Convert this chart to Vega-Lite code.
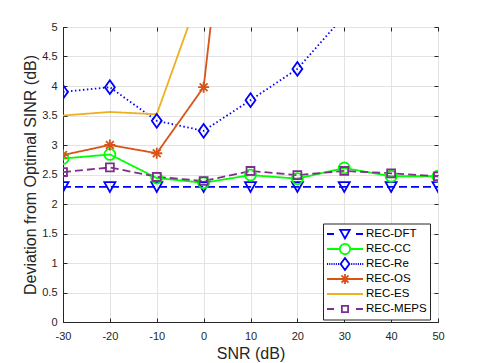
{
  "$schema": "https://vega.github.io/schema/vega-lite/v6.json",
  "width": 375,
  "height": 295,
  "autosize": {"type": "none"},
  "padding": {"left": 63, "top": 27, "right": 47, "bottom": 41},
  "config": {
    "font": "Liberation Sans",
    "view": {"stroke": "#262626", "strokeWidth": 1},
    "axis": {
      "labelFont": "Liberation Sans",
      "labelFontSize": 11,
      "labelColor": "#262626",
      "titleFont": "Liberation Sans",
      "titleFontSize": 16,
      "titleFontWeight": "normal",
      "titleColor": "#262626",
      "domainColor": "#262626",
      "tickColor": "#262626",
      "gridColor": "#e3e3e3",
      "tickSize": -4
    }
  },
  "data": {
    "values": [
      {"snr": -30, "dev": 2.29, "series": "REC-DFT"},
      {"snr": -20, "dev": 2.29, "series": "REC-DFT"},
      {"snr": -10, "dev": 2.29, "series": "REC-DFT"},
      {"snr": 0, "dev": 2.29, "series": "REC-DFT"},
      {"snr": 10, "dev": 2.29, "series": "REC-DFT"},
      {"snr": 20, "dev": 2.29, "series": "REC-DFT"},
      {"snr": 30, "dev": 2.29, "series": "REC-DFT"},
      {"snr": 40, "dev": 2.29, "series": "REC-DFT"},
      {"snr": 50, "dev": 2.29, "series": "REC-DFT"},
      {"snr": -30, "dev": 2.77, "series": "REC-CC"},
      {"snr": -20, "dev": 2.84, "series": "REC-CC"},
      {"snr": -10, "dev": 2.44, "series": "REC-CC"},
      {"snr": 0, "dev": 2.36, "series": "REC-CC"},
      {"snr": 10, "dev": 2.49, "series": "REC-CC"},
      {"snr": 20, "dev": 2.43, "series": "REC-CC"},
      {"snr": 30, "dev": 2.61, "series": "REC-CC"},
      {"snr": 40, "dev": 2.47, "series": "REC-CC"},
      {"snr": 50, "dev": 2.47, "series": "REC-CC"},
      {"snr": -30, "dev": 3.90, "series": "REC-Re"},
      {"snr": -20, "dev": 3.98, "series": "REC-Re"},
      {"snr": -10, "dev": 3.41, "series": "REC-Re"},
      {"snr": 0, "dev": 3.24, "series": "REC-Re"},
      {"snr": 10, "dev": 3.76, "series": "REC-Re"},
      {"snr": 20, "dev": 4.29, "series": "REC-Re"},
      {"snr": 30, "dev": 5.19, "series": "REC-Re"},
      {"snr": -30, "dev": 2.83, "series": "REC-OS"},
      {"snr": -20, "dev": 3.0, "series": "REC-OS"},
      {"snr": -10, "dev": 2.86, "series": "REC-OS"},
      {"snr": 0, "dev": 3.98, "series": "REC-OS"},
      {"snr": 10, "dev": 10.9, "series": "REC-OS"},
      {"snr": -30, "dev": 3.50, "series": "REC-ES"},
      {"snr": -20, "dev": 3.56, "series": "REC-ES"},
      {"snr": -10, "dev": 3.52, "series": "REC-ES"},
      {"snr": 0, "dev": 5.74, "series": "REC-ES"},
      {"snr": -30, "dev": 2.54, "series": "REC-MEPS"},
      {"snr": -20, "dev": 2.62, "series": "REC-MEPS"},
      {"snr": -10, "dev": 2.46, "series": "REC-MEPS"},
      {"snr": 0, "dev": 2.39, "series": "REC-MEPS"},
      {"snr": 10, "dev": 2.56, "series": "REC-MEPS"},
      {"snr": 20, "dev": 2.49, "series": "REC-MEPS"},
      {"snr": 30, "dev": 2.56, "series": "REC-MEPS"},
      {"snr": 40, "dev": 2.52, "series": "REC-MEPS"},
      {"snr": 50, "dev": 2.47, "series": "REC-MEPS"}
    ]
  },
  "layer": [
    {
      "mark": {"type": "line", "clip": true, "strokeWidth": 1.8},
      "encoding": {
        "x": {
          "field": "snr", "type": "quantitative",
          "scale": {"domain": [-30, 50], "nice": false},
          "axis": {"values": [-30, -20, -10, 0, 10, 20, 30, 40, 50], "labelExpr": "datum.value + ''", "title": "SNR (dB)", "titlePadding": 4, "labelPadding": 12, "labelFlush": false}
        },
        "y": {
          "field": "dev", "type": "quantitative",
          "scale": {"domain": [0, 5], "nice": false},
          "axis": {"values": [0, 0.5, 1, 1.5, 2, 2.5, 3, 3.5, 4, 4.5, 5], "labelExpr": "datum.value + ''", "title": "Deviation from Optimal SINR (dB)", "titlePadding": 3, "labelPadding": 10, "labelFlush": false}
        },
        "color": {
          "field": "series", "type": "nominal",
          "scale": {"domain": ["REC-DFT", "REC-CC", "REC-Re", "REC-OS", "REC-ES", "REC-MEPS"], "range": ["#0000ff", "#00ff00", "#0000ff", "#D95319", "#EDB120", "#7E2F8E"]},
          "legend": null
        },
        "strokeDash": {
          "field": "series", "type": "nominal",
          "scale": {"domain": ["REC-DFT", "REC-CC", "REC-Re", "REC-OS", "REC-ES", "REC-MEPS"], "range": [[8, 4], [1, 0], [1.5, 2.5], [1, 0], [1, 0], [8, 4]]},
          "legend": null
        }
      }
    },
    {
      "transform": [{"filter": "datum.series !== 'REC-ES'"}],
      "mark": {"type": "point", "clip": true, "filled": false, "strokeWidth": 1.8, "size": 121, "opacity": 1},
      "encoding": {
        "x": {"field": "snr", "type": "quantitative", "axis": null},
        "y": {"field": "dev", "type": "quantitative", "axis": null},
        "color": {
          "field": "series", "type": "nominal",
          "scale": {"domain": ["REC-DFT", "REC-CC", "REC-Re", "REC-OS", "REC-ES", "REC-MEPS"], "range": ["#0000ff", "#00ff00", "#0000ff", "#D95319", "#EDB120", "#7E2F8E"]},
          "legend": null
        },
        "shape": {
          "field": "series", "type": "nominal",
          "scale": {"domain": ["REC-DFT", "REC-CC", "REC-Re", "REC-OS", "REC-ES", "REC-MEPS"], "range": [
            "M-1,-0.85L1,-0.85L0,0.9Z",
            "circle",
            "M0,-1.25L0.9,0L0,1.25L-0.9,0Z",
            "M0,-1V1M-1,0H1M-0.71,-0.71L0.71,0.71M-0.71,0.71L0.71,-0.71",
            "circle",
            "M-0.72,-0.72H0.72V0.72H-0.72Z"
          ]},
          "legend": null
        }
      }
    },
    {
      "transform": [{"filter": "false"}],
      "mark": {"type": "point", "filled": false, "strokeWidth": 1.8, "size": 121, "opacity": 1},
      "encoding": {
        "x": {"field": "snr", "type": "quantitative", "axis": {"orient": "top", "values": [-30, -20, -10, 0, 10, 20, 30, 40, 50], "labels": false, "grid": false, "domain": false, "title": null}},
        "y": {"field": "dev", "type": "quantitative", "axis": {"orient": "right", "values": [0, 0.5, 1, 1.5, 2, 2.5, 3, 3.5, 4, 4.5, 5], "labels": false, "grid": false, "domain": false, "title": null}},
        "color": {
          "field": "series", "type": "nominal",
          "scale": {"domain": ["REC-DFT", "REC-CC", "REC-Re", "REC-OS", "REC-ES", "REC-MEPS"], "range": ["#0000ff", "#00ff00", "#0000ff", "#D95319", "#EDB120", "#7E2F8E"]},
          "legend": {
            "orient": "none", "legendX": 260, "legendY": 196.5, "title": null,
            "strokeColor": "#262626", "fillColor": "white", "padding": 3, "rowPadding": 0, "clipHeight": 15,
            "labelFont": "Liberation Sans", "labelFontSize": 11.5, "labelColor": "#000000",
            "symbolSize": 121, "symbolStrokeWidth": 1.8, "labelOffset": 27
          }
        },
        "shape": {
          "field": "series", "type": "nominal",
          "scale": {"domain": ["REC-DFT", "REC-CC", "REC-Re", "REC-OS", "REC-ES", "REC-MEPS"], "range": [
            "M-1,0H0.27M4.27,0H5.54M1.4,-0.75L3.14,-0.75L2.27,0.8Z",
            "M-1,0H1.27M3.27,0H5.54M3.22,0A0.95,0.95 0 1,1 1.32,0A0.95,0.95 0 1,1 3.22,0",
            "M-1,0h0.2M-0.6,0h0.2M-0.2,0h0.2M0.2,0h0.2M0.6,0h0.2M1.0,0h0.2M3.4,0h0.2M3.8,0h0.2M4.2,0h0.2M4.6,0h0.2M5.0,0h0.2M5.4,0h0.2M2.27,-1.1L3.07,0L2.27,1.1L1.47,0Z",
            "M-1,0H5.54M2.27,-0.9V0.9M1.37,0H3.17M1.63,-0.64L2.91,0.64M1.63,0.64L2.91,-0.64",
            "M-1,0H5.54",
            "M-1,0H0.27M4.27,0H5.54M1.7,-0.57H2.84V0.57H1.7Z"
          ]},
          "legend": {
            "orient": "none", "legendX": 260, "legendY": 196.5, "title": null,
            "strokeColor": "#262626", "fillColor": "white", "padding": 3, "rowPadding": 0, "clipHeight": 15,
            "labelFont": "Liberation Sans", "labelFontSize": 11.5, "labelColor": "#000000",
            "symbolSize": 121, "symbolStrokeWidth": 1.8, "labelOffset": 27
          }
        }
      }
    }
  ],
  "resolve": {"scale": {"color": "independent", "shape": "independent"}, "axis": {"x": "independent", "y": "independent"}}
}
